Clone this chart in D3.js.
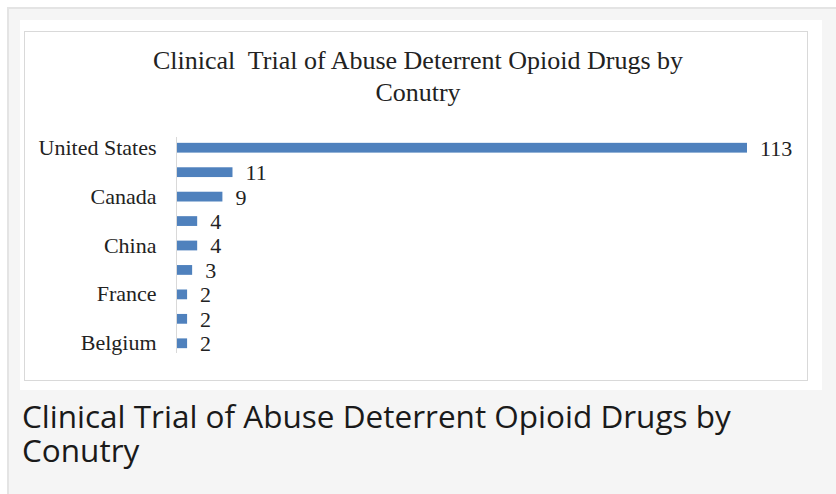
<!DOCTYPE html>
<html>
  <head>
    <meta charset="utf-8"/>
    <title>Clinical Trial of Abuse Deterrent Opioid Drugs by Conutry</title>
    <style>
      body { margin: 0; background: #fff; }
      .label, .value, .title { font-family: "Liberation Serif", "Times New Roman", serif; fill: #222; }
      .caption { font-family: "Open Sans", sans-serif; fill: #1a1a1a; }
    </style>
    <script src="https://d3js.org/d3.v7.min.js"></script>
  </head>
  <body>
    <svg id="chart" width="836" height="494"></svg>
    <script>
      // data (every second country name is hidden in the original)
      var countries = ["United States", "United Kingdom", "Canada", "Germany", "China",
                       "Spain", "France", "Italy", "Belgium"];
      var trials = [113, 11, 9, 4, 4, 3, 2, 2, 2];
      var titleLines = ["Clinical  Trial of Abuse Deterrent Opioid Drugs by", "Conutry"];
      var captionLines = ["Clinical Trial of Abuse Deterrent Opioid Drugs by", "Conutry"];

      var svg = d3.select("#chart");

      // page frame
      svg.append("rect").attr("x", 8).attr("y", 8).attr("width", 840).attr("height", 500)
        .attr("fill", "#f5f5f5").attr("stroke", "#e4e4e4").attr("stroke-width", 2);
      svg.append("rect").attr("x", 20).attr("y", 20).attr("width", 802).attr("height", 370)
        .attr("fill", "#fff");
      svg.append("rect").attr("x", 24.5).attr("y", 31.5).attr("width", 783).attr("height", 349)
        .attr("fill", "none").attr("stroke", "#d9d9d9");

      // chart title
      svg.append("text").attr("class", "title")
        .attr("font-size", 26).attr("text-anchor", "middle")
        .attr("xml:space", "preserve")
        .selectAll("tspan").data(titleLines).enter().append("tspan")
        .attr("x", 418).attr("y", function(d, i) { return 69 + i * 32; })
        .text(function(d) { return d; });

      var x = d3.scaleLinear().domain([0, 113]).range([177, 747]);
      var y = d3.scaleBand().domain(countries).range([135.5, 355.5]).paddingInner(0.6).paddingOuter(0.3);

      // y axis line with labels on every second category
      var yAxis = d3.axisLeft(y).tickSize(0).tickPadding(20)
        .tickFormat(function(d, i) { return i % 2 === 0 ? d : ""; });
      var ax = svg.append("g").attr("transform", "translate(176.5,0)").call(yAxis);
      ax.select(".domain").attr("stroke", "#d9d9d9").attr("d", "M0,137V353");
      ax.selectAll("text").attr("class", "label").attr("font-size", 22)
        .attr("fill", "#222").attr("font-family", "Liberation Serif, serif");

      var rows = countries.map(function(c, i) { return { name: c, value: trials[i] }; });

      svg.selectAll(".bar").data(rows).enter().append("rect")
        .attr("class", "bar")
        .attr("x", x(0))
        .attr("y", function(d) { return y(d.name); })
        .attr("width", function(d) { return x(d.value) - x(0); })
        .attr("height", y.bandwidth())
        .attr("fill", "#4f81bd");

      svg.selectAll(".value").data(rows).enter().append("text")
        .attr("class", "value")
        .attr("font-size", 22)
        .attr("x", function(d) { return x(d.value) + 13; })
        .attr("y", function(d) { return y(d.name) + y.bandwidth() / 2; })
        .attr("dy", "0.36em")
        .text(function(d) { return d.value; });

      // caption under the figure
      svg.append("text").attr("class", "caption").attr("font-size", 31.5)
        .selectAll("tspan").data(captionLines).enter().append("tspan")
        .attr("x", 22).attr("y", function(d, i) { return 428 + i * 34; })
        .text(function(d) { return d; });
    </script>
  </body>
</html>
